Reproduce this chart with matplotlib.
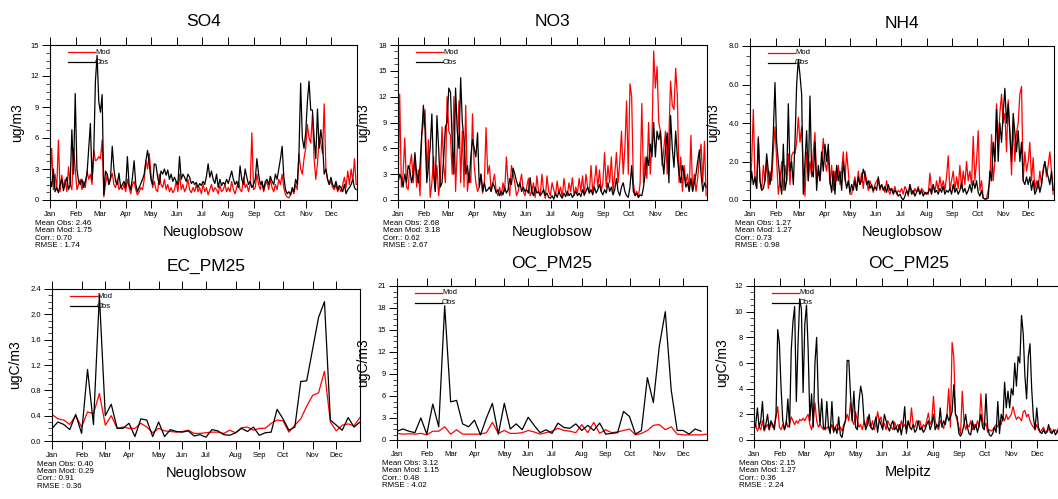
import numpy as np
import matplotlib
matplotlib.use('Agg')
import matplotlib.pyplot as plt
from matplotlib.ticker import AutoMinorLocator, FormatStrFormatter

plt.rcParams['font.family'] = ['Liberation Sans', 'DejaVu Sans']

months = ['Jan', 'Feb', 'Mar', 'Apr', 'May', 'Jun', 'Jul', 'Aug', 'Sep', 'Oct', 'Nov', 'Dec']
month_start_days = [0, 31, 59, 90, 120, 151, 181, 212, 243, 273, 304, 334]
# weekly series: month ticks sit on these sample indices
week_month_ticks = [0, 5, 9, 13, 18, 22, 26, 31, 35, 39, 44, 48]

# ---- SO4 Neuglobsow (ug/m3), every 2nd day ----
so4_obs = [2.0, 1.3, 3.0, 0.8, 1.2, 0.7, 1.5, 2.0, 0.9, 1.6, 2.2, 1.0, 1.5, 6.8, 2.5, 10.3,
           3.0, 1.8, 1.5, 2.0, 1.2, 1.8, 2.5, 5.0, 7.4, 2.0, 4.5, 11.5, 14.0, 9.5,
           8.5, 10.2, 0.5, 2.8, 2.5, 1.5, 2.2, 5.2, 3.0, 1.8, 1.5, 2.6, 1.2, 1.5, 1.8,
           1.2, 4.2, 1.5, 1.0, 2.2, 3.8, 1.5, 0.8, 1.2, 1.6, 2.0, 2.5, 3.8, 4.8, 3.5,
           2.0, 1.5, 3.5, 3.4, 2.2, 1.5, 2.8, 2.5, 3.0, 2.4, 2.9, 2.0, 2.5, 1.8, 2.2, 1.8,
           1.5, 4.2, 2.0, 2.5, 2.2, 1.8, 2.5, 2.2, 1.6, 1.8, 1.5, 1.7, 1.2, 1.6, 1.4,
           1.8, 1.5, 2.3, 3.5, 2.2, 2.8, 2.0, 1.6, 2.5, 1.2, 2.0, 1.4, 1.7, 1.5, 2.0, 1.6,
           2.2, 2.8, 2.0, 1.5, 1.8, 1.2, 3.3, 2.0, 1.5, 3.0, 2.2, 1.5, 1.8, 1.2, 1.5,
           2.0, 4.0, 2.5, 1.5, 1.8, 1.0, 1.8, 2.0, 1.5, 2.3, 1.8, 1.5, 2.5, 2.0, 3.0,
           4.0, 5.2, 2.2, 1.0, 0.6, 0.8, 0.5, 1.2, 0.8, 2.0, 1.5, 4.5, 11.3, 6.0, 5.0,
           6.5, 9.5, 11.5, 8.7, 8.7, 6.0, 4.0, 8.8, 5.0, 6.8, 5.5, 2.5, 3.0, 2.0, 1.5,
           2.2, 1.5, 1.2, 1.8, 1.0, 1.4, 1.2, 0.8, 1.5, 0.6, 1.0, 1.2, 1.5, 2.0, 1.2, 1.0]
so4_mod = [1.5, 5.0, 1.0, 2.5, 1.0, 5.8, 0.8, 2.4, 1.2, 2.0, 0.8, 3.2, 1.5, 1.0, 5.0, 3.0,
           1.0, 1.5, 2.0, 1.0, 1.8, 1.2, 2.8, 2.0, 2.5, 1.5, 4.8, 3.8, 3.9, 4.2,
           4.0, 5.8, 0.3, 1.5, 2.5, 1.5, 2.0, 2.6, 1.5, 1.2, 2.0, 1.0, 1.3, 1.0, 1.5,
           0.8, 2.0, 1.2, 0.6, 1.5, 1.8, 1.0, 0.5, 0.8, 1.2, 1.0, 2.0, 3.8, 3.0, 4.5,
           2.5, 1.2, 1.8, 1.0, 0.8, 2.5, 1.5, 1.2, 2.0, 1.0, 1.5, 0.8, 1.2, 0.7, 1.0, 1.8,
           0.8, 2.5, 1.0, 1.5, 0.8, 1.2, 2.0, 1.0, 0.7, 1.2, 0.8, 1.5, 0.8, 1.2, 0.6,
           1.5, 0.8, 1.2, 0.5, 1.0, 1.5, 0.8, 1.2, 1.0, 0.6, 1.4, 0.8, 1.0, 1.5, 0.8, 1.2,
           0.8, 1.8, 1.0, 0.6, 1.2, 1.8, 1.0, 0.8, 2.2, 1.2, 1.5, 0.8, 1.5, 6.5, 1.0,
           1.2, 2.5, 1.5, 1.0, 1.8, 0.8, 1.5, 1.8, 1.0, 2.0, 1.2, 0.8, 1.5, 1.0, 2.0,
           1.5, 2.5, 1.2, 0.5, 0.3, 0.2, 0.5, 1.0, 0.6, 1.5, 1.0, 4.5, 3.0, 2.5, 4.0,
           5.0, 7.3, 6.0, 5.5, 8.3, 4.0, 2.0, 3.5, 6.0, 5.5, 4.5, 9.3, 3.0, 2.0, 1.5,
           1.8, 1.2, 1.0, 1.5, 0.8, 1.2, 0.8, 1.5, 2.2, 1.2, 2.8, 1.5, 3.0, 1.8, 4.0, 1.5]

# ---- NO3 Neuglobsow (ug/m3), every 2nd day ----
no3_obs = [2.0, 3.0, 2.5, 1.5, 3.0, 2.0, 4.0, 3.5, 2.0, 3.0, 5.5, 3.0, 2.0, 4.0, 7.5, 11.0,
           8.0, 2.0, 4.0, 6.0, 10.0, 3.0, 1.0, 9.8, 6.0, 1.5, 2.0, 5.0, 8.5, 9.0,
           13.0, 12.5, 7.0, 3.0, 13.0, 8.0, 6.0, 14.2, 9.0, 7.0, 3.0, 4.0, 2.0, 5.0, 7.0,
           6.0, 5.0, 7.8, 1.5, 3.0, 1.0, 2.0, 1.0, 1.2, 1.5, 1.0, 2.0, 1.5, 0.8, 1.2,
           0.5, 1.0, 0.6, 1.5, 0.8, 1.2, 2.5, 1.8, 3.7, 3.0, 2.2, 1.5, 2.0, 1.0, 1.5, 1.0,
           1.2, 0.8, 2.6, 1.0, 0.5, 1.5, 0.8, 1.0, 0.5, 0.8, 1.2, 0.5, 0.8, 0.3, 0.2,
           0.5, 0.1, 0.8, 0.3, 1.0, 0.5, 0.2, 0.8, 0.4, 1.0, 0.5, 0.8, 0.3, 0.6, 1.0, 0.5,
           0.8, 0.4, 1.2, 0.6, 1.0, 1.5, 0.8, 1.2, 0.6, 1.5, 0.8, 1.2, 1.8, 1.0, 0.6,
           1.2, 0.8, 2.0, 1.0, 1.5, 0.6, 1.2, 2.5, 1.0, 0.5, 1.5, 2.0, 1.0, 0.5, 0.3,
           1.5, 4.0, 1.0, 0.5, 0.8, 0.3, 0.6, 0.5, 1.5, 3.0, 5.0, 4.0, 6.5, 5.0, 9.0,
           5.0, 8.0, 7.0, 8.0, 5.0, 3.0, 6.0, 7.8, 2.0, 9.8, 6.0, 3.8, 8.0, 5.0, 3.0,
           2.0, 4.0, 3.0, 1.5, 2.0, 1.0, 2.5, 1.0, 2.0, 3.0, 4.5, 5.8, 3.0, 1.0, 2.0, 1.5]
no3_mod = [0.5, 12.3, 1.5, 3.0, 7.2, 1.5, 1.2, 4.0, 5.3, 2.0, 4.8, 1.5, 3.5, 0.5, 7.5, 9.0,
           10.5, 3.0, 7.0, 0.3, 2.0, 5.0, 1.0, 4.0, 0.5, 2.5, 8.5, 4.0, 2.0, 12.0,
           8.0, 7.5, 3.0, 12.0, 1.0, 6.0, 11.5, 2.0, 8.0, 1.5, 11.0, 1.0, 3.0, 2.0, 10.0,
           4.0, 2.0, 1.0, 1.5, 3.0, 0.8, 2.0, 8.4, 3.0, 4.0, 1.0, 2.0, 3.0, 1.0, 0.5,
           1.5, 0.5, 2.0, 1.0, 5.0, 2.0, 0.5, 4.0, 3.0, 2.0, 0.5, 1.0, 2.0, 3.0, 1.0, 0.5,
           1.5, 2.5, 0.5, 1.0, 2.0, 0.3, 2.8, 1.0, 0.5, 3.0, 1.0, 0.2, 2.8, 1.0, 0.5,
           2.0, 1.2, 0.5, 2.2, 0.8, 1.5, 0.3, 2.5, 1.0, 0.5, 2.0, 1.0, 2.6, 0.5, 1.5, 0.8,
           2.5, 1.0, 2.8, 0.5, 3.0, 1.5, 0.8, 4.0, 1.0, 2.0, 4.0, 1.5, 3.5, 1.0, 2.0,
           5.5, 1.5, 4.0, 2.0, 5.0, 1.0, 3.0, 5.5, 2.0, 4.5, 8.0, 3.0, 6.0, 11.5, 3.0,
           13.5, 12.0, 2.0, 0.5, 1.0, 0.3, 2.0, 11.2, 2.0, 5.0, 2.5, 9.0, 3.0, 7.0, 17.3,
           13.0, 15.5, 9.0, 8.0, 4.0, 6.0, 8.0, 3.0, 7.5, 13.8, 11.0, 10.5, 15.3, 12.0, 2.0,
           5.0, 1.0, 4.0, 2.0, 3.0, 1.0, 7.5, 1.0, 3.0, 1.0, 2.5, 5.0, 6.5, 2.0, 6.8, 0.5]

# ---- NH4 Neuglobsow (ug/m3), every 2nd day ----
nh4_obs = [0.5, 1.5, 0.8, 1.2, 0.6, 3.2, 1.0, 0.5, 0.6, 1.0, 2.4, 1.5, 0.8, 1.5, 3.5, 6.1,
           3.0, 2.0, 1.0, 0.3, 2.9, 0.5, 1.0, 5.0, 1.5, 2.0, 0.8, 3.0, 6.0, 7.3,
           6.5, 5.5, 0.3, 2.0, 3.6, 1.0, 5.4, 1.5, 1.2, 3.0, 0.5, 1.8, 1.0, 2.5, 1.5,
           2.9, 2.0, 2.9, 1.0, 0.4, 1.5, 0.3, 1.8, 1.0, 1.5, 0.5, 2.0, 1.2, 0.6, 1.0,
           0.4, 0.8, 0.5, 1.0, 0.5, 1.2, 0.8, 1.0, 1.6, 1.3, 0.8, 1.0, 0.6, 0.8, 0.5, 0.7,
           0.5, 1.2, 0.6, 0.8, 0.5, 0.7, 0.4, 0.8, 0.5, 0.6, 0.3, 0.5, 0.4, 0.2, 0.3,
           0.1, 0.0, 0.2, 0.5, 0.3, 0.8, 0.3, 0.5, 0.2, 0.4, 0.6, 0.3, 0.5, 0.2, 0.4, 0.3,
           0.4, 0.6, 0.3, 0.8, 0.4, 0.5, 0.3, 0.6, 0.4, 0.7, 0.3, 0.5, 0.4, 0.6, 0.3,
           0.8, 0.4, 0.6, 0.3, 0.5, 0.9, 0.4, 0.6, 0.3, 0.5, 0.8, 0.4, 1.0, 0.6, 1.0,
           0.4, 0.2, 0.5, 0.1, 0.05, 0.05, 0.1, 1.5, 1.0, 3.0, 2.0, 4.7, 2.0, 4.0, 3.0,
           4.5, 5.8, 4.0, 5.0, 3.5, 2.0, 4.5, 3.5, 2.5, 3.6, 2.0, 3.0, 1.0, 0.8, 1.2,
           0.8, 1.2, 0.5, 1.0, 0.3, 0.5, 1.0, 0.4, 0.8, 1.5, 2.0, 1.5, 1.2, 0.8, 1.5, 0.5]
nh4_mod = [0.5, 2.0, 4.7, 1.0, 0.6, 3.3, 1.0, 0.5, 1.8, 1.0, 2.0, 0.6, 1.5, 1.0, 2.5, 3.8,
           2.0, 0.3, 1.0, 2.0, 0.5, 1.8, 1.0, 2.4, 0.8, 2.3, 2.5, 2.4, 3.0, 4.3,
           3.0, 3.8, 1.5, 0.2, 2.5, 1.0, 2.0, 1.2, 2.5, 3.5, 1.0, 1.5, 1.0, 2.0, 3.2,
           2.0, 1.5, 2.4, 0.8, 1.8, 0.5, 1.5, 1.0, 1.8, 0.8, 1.5, 2.5, 1.0, 2.5, 1.5,
           0.3, 0.3, 0.8, 1.2, 0.5, 1.5, 0.8, 1.4, 0.6, 1.5, 1.0, 0.5, 1.0, 0.7, 0.4, 0.8,
           1.0, 1.1, 0.5, 0.8, 0.6, 0.4, 1.0, 0.5, 0.3, 0.6, 0.4, 0.7, 0.3, 0.5, 0.4,
           0.6, 0.3, 0.7, 0.5, 0.2, 0.8, 0.5, 0.3, 0.6, 0.4, 0.7, 0.3, 0.6, 0.5, 0.3, 0.4,
           0.3, 1.4, 0.5, 0.8, 0.4, 1.0, 0.5, 1.2, 0.6, 1.0, 0.5, 1.2, 2.3, 0.5, 1.0,
           1.5, 0.5, 1.2, 0.6, 1.8, 0.6, 1.5, 0.8, 2.0, 1.0, 1.5, 0.8, 3.3, 1.0, 2.0,
           3.6, 0.5, 1.0, 0.1, 0.05, 0.1, 0.5, 1.0, 3.4, 1.0, 2.0, 5.0, 3.0, 4.5, 5.5,
           4.0, 4.5, 2.5, 5.2, 3.5, 1.3, 4.0, 2.0, 3.5, 4.0, 5.5, 5.9, 1.0, 2.5, 1.5,
           2.0, 3.0, 1.0, 2.2, 0.5, 1.0, 0.6, 1.5, 0.8, 1.6, 2.0, 1.2, 1.8, 2.5, 1.5, 0.3]

# ---- EC_PM25 Neuglobsow (ugC/m3), weekly samples ----
ec_obs = [0.20, 0.30, 0.26, 0.18, 0.42, 0.12, 1.13, 0.26, 2.30, 0.40,
          0.58, 0.20, 0.20, 0.28, 0.07, 0.35, 0.33, 0.07, 0.30, 0.07,
          0.18, 0.15, 0.14, 0.16, 0.08, 0.10, 0.06, 0.18, 0.16, 0.10,
          0.09, 0.13, 0.20, 0.15, 0.22, 0.09, 0.13, 0.14, 0.50, 0.35,
          0.17, 0.22, 0.94, 0.95, 1.45, 1.95, 2.20, 0.33, 0.25, 0.17,
          0.37, 0.22, 0.30]
ec_mod = [0.42, 0.35, 0.33, 0.26, 0.40, 0.22, 0.46, 0.43, 0.75, 0.25,
          0.40, 0.20, 0.22, 0.20, 0.20, 0.28, 0.22, 0.13, 0.20, 0.16,
          0.15, 0.14, 0.15, 0.17, 0.12, 0.12, 0.13, 0.14, 0.14, 0.12,
          0.17, 0.13, 0.21, 0.22, 0.17, 0.20, 0.20, 0.28, 0.33, 0.32,
          0.14, 0.25, 0.35, 0.55, 0.72, 0.76, 1.10, 0.30, 0.16, 0.25,
          0.27, 0.24, 0.37]

# ---- OC_PM25 Neuglobsow (ugC/m3), weekly samples ----
ocn_obs = [1.2, 1.5, 1.2, 1.0, 3.0, 0.8, 4.9, 1.8, 18.3, 5.2,
           5.4, 2.2, 1.8, 2.7, 0.7, 3.0, 5.0, 0.8, 5.0, 1.5,
           2.2, 1.4, 3.1, 2.0, 1.0, 1.4, 0.9, 2.3, 1.7, 1.6,
           2.2, 1.3, 2.0, 1.3, 2.3, 0.8, 0.9, 1.0, 3.9, 3.2,
           0.8, 1.3, 8.5, 5.1, 12.8, 17.5, 6.8, 1.3, 1.3, 0.8,
           1.5, 1.2]
ocn_mod = [0.9, 0.8, 0.85, 0.8, 0.9, 0.7, 1.2, 1.2, 1.8, 0.8,
           1.4, 0.8, 0.8, 0.8, 0.8, 1.0, 2.4, 0.9, 1.3, 0.9,
           0.9, 1.0, 1.3, 1.1, 0.8, 1.0, 1.2, 1.6, 1.3, 1.2,
           1.0, 2.1, 1.0, 2.4, 0.9, 1.4, 1.0, 1.1, 1.3, 1.5,
           0.7, 0.9, 1.3, 2.0, 2.1, 1.4, 1.8, 0.8, 0.7, 0.7,
           0.7, 0.7, 0.8]

# ---- OC_PM25 Melpitz (ugC/m3), every 2nd day ----
ocm_obs = [0.8, 1.2, 2.5, 1.0, 1.5, 3.0, 0.8, 1.2, 2.0, 0.8, 1.5, 1.2, 0.8, 2.0, 8.6, 7.5,
           4.0, 1.5, 0.8, 1.2, 3.2, 1.0, 7.0, 9.2, 10.4, 3.0, 7.5, 11.0, 10.2, 3.7,
           9.0, 10.5, 7.0, 1.5, 3.6, 1.0, 6.0, 8.0, 3.0, 1.2, 3.2, 1.0, 0.8, 3.0, 1.0,
           0.5, 3.0, 0.6, 1.0, 0.5, 1.8, 0.4, 0.2, 1.0, 1.5, 6.2, 6.2, 3.5, 1.5, 3.8,
           1.0, 0.8, 3.0, 4.2, 3.5, 1.5, 0.8, 1.2, 2.0, 1.0, 0.8, 1.2, 1.8, 0.6, 1.6, 1.2,
           0.8, 2.0, 1.5, 1.0, 0.7, 1.2, 1.5, 0.8, 1.0, 0.6, 1.2, 0.4, 1.2, 2.6, 0.5,
           1.5, 1.0, 0.8, 1.2, 0.6, 0.8, 1.5, 0.8, 1.0, 0.6, 0.8, 1.2, 1.5, 0.8, 1.2, 2.0,
           0.8, 1.2, 1.0, 2.5, 1.0, 1.5, 1.2, 2.0, 1.5, 1.8, 2.2, 4.3, 2.0, 1.8, 0.5,
           0.3, 0.6, 1.2, 2.0, 1.0, 0.5, 0.4, 1.5, 0.8, 1.2, 0.6, 1.2, 2.0, 1.0, 0.8,
           3.6, 1.0, 0.4, 0.3, 0.5, 1.0, 0.6, 3.0, 0.5, 2.0, 1.5, 4.5, 2.5, 3.8, 2.5,
           4.0, 3.5, 6.0, 4.2, 6.5, 6.0, 9.7, 8.3, 5.0, 3.2, 6.5, 7.5, 4.0, 1.8, 0.8,
           2.5, 1.0, 0.6, 0.5, 0.8, 0.5, 0.6, 1.2, 0.6, 0.5, 0.8, 0.4, 0.6, 1.0, 0.5, 0.6]
ocm_mod = [0.8, 1.2, 0.7, 1.0, 0.8, 1.5, 0.7, 1.0, 1.2, 0.8, 1.4, 1.0, 1.2, 1.8, 2.6, 1.0,
           0.8, 1.2, 0.8, 1.5, 1.0, 1.2, 1.8, 1.5, 1.2, 1.5, 1.3, 1.6, 1.5, 1.7,
           1.5, 1.8, 2.0, 1.2, 0.8, 1.5, 2.9, 1.5, 1.0, 1.2, 1.0, 0.8, 1.0, 0.9, 1.1,
           0.8, 1.2, 0.7, 1.0, 1.2, 0.8, 1.0, 0.7, 1.2, 1.5, 2.0, 1.5, 2.9, 1.5, 1.2,
           2.2, 1.5, 1.0, 1.2, 0.8, 1.5, 1.0, 1.8, 1.2, 1.0, 1.5, 0.8, 1.2, 2.2, 1.5, 1.8,
           1.0, 1.3, 0.8, 1.5, 1.2, 1.0, 0.8, 1.4, 1.0, 1.2, 0.8, 1.5, 1.0, 1.2, 0.8,
           1.4, 1.0, 2.5, 1.2, 1.0, 1.5, 1.3, 1.5, 0.8, 1.2, 1.0, 1.5, 2.1, 1.2, 1.5, 3.4,
           1.5, 1.0, 0.8, 1.5, 1.2, 0.9, 1.5, 2.0, 4.0, 1.0, 7.6, 6.5, 2.0, 1.5, 1.0,
           0.5, 3.8, 1.5, 0.8, 1.2, 1.0, 1.5, 0.8, 1.2, 1.0, 1.5, 1.0, 3.6, 1.5, 1.0,
           1.3, 0.6, 0.8, 0.7, 0.8, 1.0, 1.2, 1.0, 1.5, 1.2, 1.8, 1.5, 2.0, 1.6, 1.8,
           2.0, 2.6, 2.0, 1.6, 1.8, 1.7, 1.5, 2.2, 2.3, 1.8, 2.0, 1.5, 1.2, 1.0, 0.8,
           1.2, 0.8, 0.6, 0.8, 1.0, 0.6, 0.7, 0.8, 0.9, 0.6, 0.7, 0.8, 0.6, 0.7, 0.8, 0.6]

stats = {
    'so4': ['Mean Obs: 2.46', 'Mean Mod: 1.75', 'Corr.: 0.70', 'RMSE : 1.74'],
    'no3': ['Mean Obs: 2.68', 'Mean Mod: 3.18', 'Corr.: 0.62', 'RMSE : 2.67'],
    'nh4': ['Mean Obs: 1.27', 'Mean Mod: 1.27', 'Corr.: 0.73', 'RMSE : 0.98'],
    'ec': ['Mean Obs: 0.40', 'Mean Mod: 0.29', 'Corr.: 0.91', 'RMSE : 0.36'],
    'ocn': ['Mean Obs: 3.12', 'Mean Mod: 1.15', 'Corr.: 0.48', 'RMSE : 4.02'],
    'ocm': ['Mean Obs: 2.15', 'Mean Mod: 1.27', 'Corr.: 0.36', 'RMSE : 2.24'],
}

W, H = 1058, 499

# (key, title, station, ylabel, obs, mod, daily?, ymax, ystep, yfmt, box px: left, top, right, bottom, ylabel offset px)
panels = [
    ('so4', 'SO4', 'Neuglobsow', 'ug/m3', so4_obs, so4_mod, True, 15, 3, '%d', (50, 45, 357, 200), 33),
    ('no3', 'NO3', 'Neuglobsow', 'ug/m3', no3_obs, no3_mod, True, 18, 3, '%d', (398, 45, 707, 200), 35),
    ('nh4', 'NH4', 'Neuglobsow', 'ug/m3', nh4_obs, nh4_mod, True, 8, 2, '%.1f', (750, 46, 1054, 200), 37),
    ('ec', 'EC_PM25', 'Neuglobsow', 'ugC/m3', ec_obs, ec_mod, False, 2.4, 0.4, '%.1f', (52, 289, 360, 441), 37),
    ('ocn', 'OC_PM25', 'Neuglobsow', 'ugC/m3', ocn_obs, ocn_mod, False, 21, 3, '%d', (397, 286, 707, 440), 34),
    ('ocm', 'OC_PM25', 'Melpitz', 'ugC/m3', ocm_obs, ocm_mod, True, 12, 2, '%d', (754, 286, 1063, 440), 32),
]

fig = plt.figure(figsize=(W / 100, H / 100), dpi=100)

for key, title, station, ylab, obs, mod, daily, ymax, ystep, yfmt, box, ylo in panels:
    l, t, r, b = box
    wpx, hpx = r - l, b - t
    ax = fig.add_axes([l / W, (H - b) / H, wpx / W, hpx / H])

    if daily:
        ax.plot(np.arange(len(mod)) * 2, mod, color='red', lw=0.9)
        ax.plot(np.arange(len(obs)) * 2, obs, color='black', lw=0.9)
        ax.set_xlim(0, 365)
        ax.set_xticks(month_start_days)
    else:
        ax.plot(np.arange(len(mod)), mod, color='red', lw=0.9)
        ax.plot(np.arange(len(obs)), obs, color='black', lw=0.9)
        ax.set_xlim(0, 52)
        ax.set_xticks(week_month_ticks)
    ax.set_xticklabels(months)

    ax.set_ylim(0, ymax)
    ax.set_yticks(np.arange(0, ymax + ystep / 2, ystep))
    ax.yaxis.set_major_formatter(FormatStrFormatter(yfmt))
    ax.yaxis.set_minor_locator(AutoMinorLocator(4))

    for s in ax.spines.values():
        s.set_linewidth(0.8)
    ax.tick_params(axis='x', which='major', direction='out', length=5.5, width=0.7,
                   pad=2.5, labelsize=5.5, top=True, bottom=True, labeltop=False)
    ax.tick_params(axis='x', which='minor', top=False, bottom=False)
    ax.tick_params(axis='y', which='major', direction='out', length=5.5, width=0.7,
                   pad=2.5, labelsize=5.5, left=True, right=False)
    ax.tick_params(axis='y', which='minor', direction='out', length=3, width=0.5,
                   left=True, right=False)

    # legend drawn the NCL way: short line with label right after it
    ax.plot([18 / wpx, 45 / wpx], [1 - 7 / hpx] * 2, transform=ax.transAxes,
            color='red', lw=0.9, clip_on=False)
    ax.text(45 / wpx, 1 - 7 / hpx, 'Mod', transform=ax.transAxes, fontsize=5.5,
            ha='left', va='center')
    ax.plot([18 / wpx, 45 / wpx], [1 - 17 / hpx] * 2, transform=ax.transAxes,
            color='black', lw=0.9, clip_on=False)
    ax.text(45 / wpx, 1 - 17 / hpx, 'Obs', transform=ax.transAxes, fontsize=5.5,
            ha='left', va='center')

    ax.text(0.5, 1 + 23 / hpx, title, transform=ax.transAxes, fontsize=12.5,
            ha='center', va='center')
    ax.text(0.5, -32 / hpx, station, transform=ax.transAxes, fontsize=10.5,
            ha='center', va='center')
    ax.text(-ylo / wpx, 0.5, ylab, transform=ax.transAxes, fontsize=10,
            rotation=90, ha='center', va='center')
    ax.text(-15 / wpx, -20 / hpx, '\n'.join(stats[key]), transform=ax.transAxes,
            fontsize=5.7, ha='left', va='top', linespacing=1.05)

fig.savefig('out.png', dpi=100)
